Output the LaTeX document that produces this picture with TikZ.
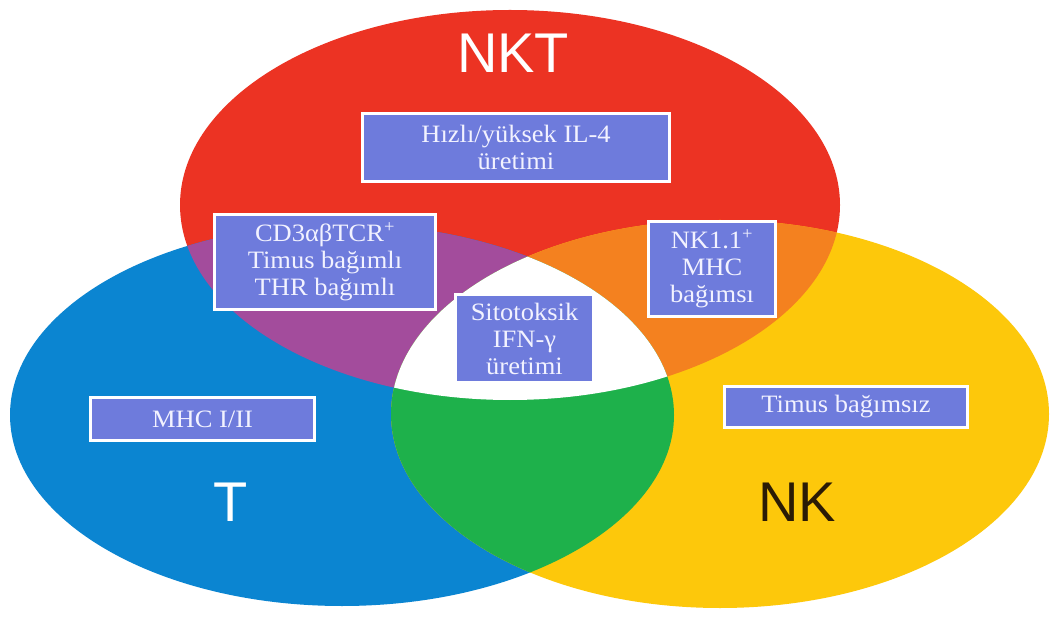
\documentclass[tikz,border=0pt]{standalone}
\usepackage{fontspec}
\setmainfont{Liberation Serif}
\newfontfamily\lblfont{Liberation Sans}
\newfontfamily\boxfont[FakeStretch=1.06]{Liberation Serif}
\definecolor{cred}{HTML}{EC3323}
\definecolor{cblue}{HTML}{0B85D1}
\definecolor{cyel}{HTML}{FDC80B}
\definecolor{cpur}{HTML}{A34C9C}
\definecolor{corg}{HTML}{F4811F}
\definecolor{cgrn}{HTML}{1EB14B}
\definecolor{boxc}{HTML}{6E7BDC}
\definecolor{boxtxt}{HTML}{F2F2FF}
\definecolor{nkdark}{HTML}{2B1B05}
\begin{document}
\begin{tikzpicture}[x=1pt,y=-1pt,
  rE/.style={insert path={(510,205) ellipse [x radius=330pt, y radius=195pt]}},
  bE/.style={insert path={(342,415) ellipse [x radius=332pt, y radius=191pt]}},
  yE/.style={insert path={(720,414) ellipse [x radius=329pt, y radius=194pt]}},
  boxst/.style={draw=white, line width=3pt, fill=boxc, text=boxtxt,
    font=\boxfont\fontsize{25}{27}\selectfont, align=center, inner sep=0pt},
  lbl/.style={font=\lblfont\fontsize{56}{60}\selectfont, inner sep=0pt}]
\useasboundingbox (0,0) rectangle (1057,617);
\fill[white] (0,0) rectangle (1057,617);
% base sets
\fill[cred, rE];
\fill[cblue, bE];
\fill[cyel, yE];
% pairwise overlaps
\begin{scope}\clip[rE]; \fill[cpur, bE]; \end{scope}
\begin{scope}\clip[rE]; \fill[corg, yE]; \end{scope}
\begin{scope}\clip[bE]; \fill[cgrn, yE]; \end{scope}
% triple overlap
\begin{scope}\clip[rE]; \clip[bE]; \fill[white, yE]; \end{scope}
% set labels
\node[lbl, text=white] (nkt) at (513,53) {NKT};
\node[lbl, text=white] (t) at (231,502) {T};
\node[lbl, text=nkdark] (nk) at (797,502) {NK};
% boxes
\node[boxst, minimum width=307pt, minimum height=68pt] (il4) at (516,147.5)
  {Hızlı/yüksek IL-4\\üretimi};
\node[boxst, minimum width=221pt, minimum height=95pt] (cd3) at (325,262)
  {CD3αβTCR\textsuperscript{+}\\Timus bağımlı\\THR bağımlı};
\node[boxst, minimum width=127pt, minimum height=95pt] (nk11) at (712,269)
  {NK1.1\textsuperscript{+}\\MHC\\bağımsı};
\node[boxst, minimum width=138pt, minimum height=88pt] (sito) at (524.5,338.5)
  {Sitotoksik\\IFN-γ\\üretimi};
\node[boxst, minimum width=224pt, minimum height=43pt] (mhc) at (202.5,419)
  {MHC I/II};
\node[boxst, minimum width=243pt, minimum height=41pt] (timus) at (846,407)
  {Timus bağımsız};
\end{tikzpicture}
\end{document}
